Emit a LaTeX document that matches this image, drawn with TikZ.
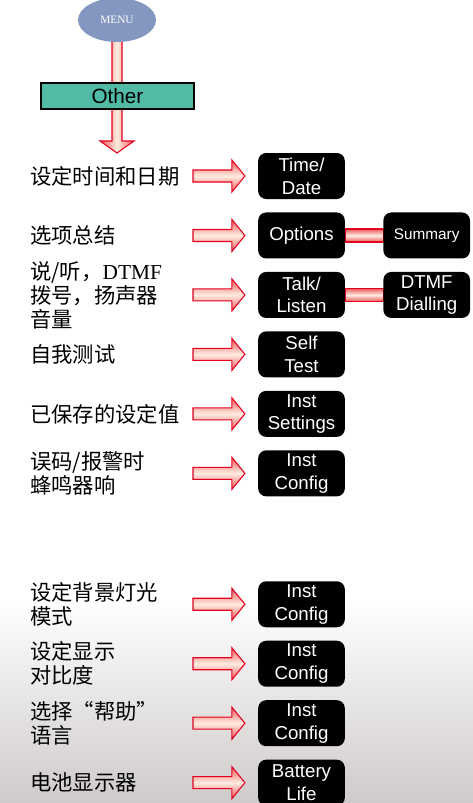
\documentclass[tikz,border=0pt]{standalone}
\usepackage{fontspec}
\setmainfont{Liberation Sans}
\newfontfamily\cnfont{Noto Sans CJK SC}
\newfontfamily\serifont{Liberation Serif}
\usetikzlibrary{shapes,arrows,positioning,calc,backgrounds}
\definecolor{menublue}{RGB}{132,151,192}
\definecolor{otherteal}{RGB}{82,187,165}
\definecolor{arrowred}{RGB}{228,0,30}
\definecolor{arrowpink}{RGB}{236,90,90}
\definecolor{arrowmid}{RGB}{255,236,225}
\definecolor{bgbottom}{RGB}{206,202,201}

% 横向粗箭头：从 ax 到方框左侧
\newcommand{\rowarrow}[1]{%
  \path[fatarrow, top color=arrowpink, bottom color=arrowpink, middle color=arrowmid]
    ($(ax |- #1.west)+(0,-6)$) -- ($(#1.west)+(-26,-6)$) -- ($(#1.west)+(-26,-16)$)
    -- ($(#1.west)+(-13,0)$) -- ($(#1.west)+(-26,16)$) -- ($(#1.west)+(-26,6)$)
    -- ($(ax |- #1.west)+(0,6)$) -- cycle;}

\begin{document}
\begin{tikzpicture}[x=0.75pt, y=-0.75pt, node distance=44.6pt]
    \tikzstyle{menu} = [ellipse, fill=menublue, text=white, minimum width=58.5pt, minimum height=33pt, font=\serifont\fontsize{8.5}{10}\selectfont]
    \tikzstyle{other} = [rectangle, draw=black, thick, fill=otherteal, minimum width=114.75pt, minimum height=19.5pt, inner sep=0pt, font=\fontsize{15.5}{18}\selectfont]
    \tikzstyle{keybox} = [rectangle, rounded corners=6pt, fill=black, text=white, align=center, minimum width=65pt, minimum height=34.5pt, inner sep=1pt, font=\fontsize{14}{17}\selectfont]
    \tikzstyle{cnlabel} = [anchor=west, align=left, inner sep=0pt, font=\cnfont\fontsize{16}{18}\selectfont]
    \tikzstyle{fatarrow} = [draw=arrowred, line width=0.8pt, line join=miter]
    \tikzstyle{bar} = [draw=arrowred, line width=0.8pt, top color=arrowpink, bottom color=arrowpink, middle color=arrowmid]

    \useasboundingbox (0,0) rectangle (473,803);
    \begin{pgfonlayer}{background}
        \fill[white] (0,0) rectangle (473,803);
        \shade[top color=white, bottom color=bgbottom] (0,600) rectangle (473,803);
    \end{pgfonlayer}

    % 节点
    \node[menu] (menu) at (117,20) {MENU};
    \node[other] (other) at (117.5,96) {Other};
    \coordinate (otip) at (117,153);
    \coordinate (lx) at (30,0);
    \coordinate (ax) at (193,0);

    \node[keybox] (t1) at (301.5,176) {Time/\\Date};
    \node[keybox, below of=t1] (t2) {Options};
    \node[keybox, below of=t2] (t3) {Talk/\\Listen};
    \node[keybox, below of=t3] (t4) {Self\\Test};
    \node[keybox, below of=t4] (t5) {Inst\\Settings};
    \node[keybox, below of=t5] (t6) {Inst\\Config};
    \node[keybox, below of=t6, yshift=-53.6pt] (t7) {Inst\\Config};
    \node[keybox, below of=t7] (t8) {Inst\\Config};
    \node[keybox, below of=t8] (t9) {Inst\\Config};
    \node[keybox, below of=t9] (t10) {Battery\\Life};

    \node[keybox, right=28.5pt of t2, font=\fontsize{11.5}{14}\selectfont] (s1) {Summary};
    \node[keybox, right=28.5pt of t3] (s2) {DTMF\\Dialling};

    \node[cnlabel] (l1) at (lx |- t1) {设定时间和日期};
    \node[cnlabel] (l2) at (lx |- t2) {选项总结};
    \node[cnlabel] (l3) at (lx |- t3) {说/听，{\serifont DTMF}\\拨号，扬声器\\音量};
    \node[cnlabel] (l4) at (lx |- t4) {自我测试};
    \node[cnlabel] (l5) at (lx |- t5) {已保存的设定值};
    \node[cnlabel] (l6) at (lx |- t6) {误码/报警时\\蜂鸣器响};
    \node[cnlabel] (l7) at (lx |- t7) {设定背景灯光\\模式};
    \node[cnlabel] (l8) at (lx |- t8) {设定显示\\对比度};
    \node[cnlabel] (l9) at (lx |- t9) {选择“帮助”\\语言};
    \node[cnlabel] (l10) at (lx |- t10) {电池显示器};

    % 箭头
    \begin{pgfonlayer}{background}
        \path[fatarrow, left color=arrowpink, right color=arrowpink, middle color=arrowmid]
            ($(menu.south)+(-5,-4)$) -- ($(otip)+(-5,-12)$) -- ($(otip)+(-17,-12)$) -- (otip)
            -- ($(otip)+(17,-12)$) -- ($(otip)+(5,-12)$) -- ($(menu.south)+(5,-4)$) -- cycle;
        \foreach \k in {1,...,10} {\rowarrow{t\k}}
        \path[bar] ($(t2.east)+(0,-6.5)$) rectangle ($(s1.west)+(0,6.5)$);
        \path[bar] ($(t3.east)+(0,-6.5)$) rectangle ($(s2.west)+(0,6.5)$);
    \end{pgfonlayer}
\end{tikzpicture}
\end{document}
